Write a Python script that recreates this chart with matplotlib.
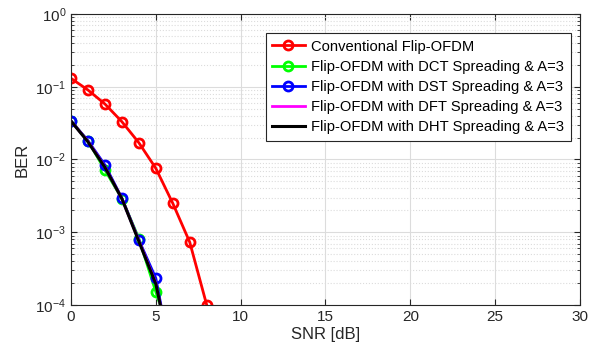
import matplotlib
matplotlib.use("Agg")
import matplotlib.pyplot as plt
from matplotlib.ticker import LogLocator, MultipleLocator, NullFormatter

plt.rcParams['font.family'] = ['Liberation Sans', 'DejaVu Sans']
plt.rcParams['mathtext.fontset'] = 'custom'
plt.rcParams['mathtext.rm'] = 'Liberation Sans'
plt.rcParams['mathtext.it'] = 'Liberation Sans:italic'

# SNR points (dB)
snr = [0, 1, 2, 3, 4, 5, 6, 7, 8]
snr_spread = [0, 1, 2, 3, 4, 5, 6]

# BER curves
ber_conv = [0.1306, 0.0902, 0.058, 0.0331, 0.0170, 0.00757, 0.0025, 0.00073, 1.0e-4]
ber_dct = [0.0338, 0.0180, 0.0072, 0.0029, 0.00082, 0.000152, 3.0e-5]
ber_dst = [0.0338, 0.0181, 0.0084, 0.00293, 0.00078, 0.000233, 1.4e-5]
ber_dft = [0.0338, 0.0178, 0.0079, 0.0029, 0.00077, 0.000200, 1.5e-5]
ber_dht = [0.0338, 0.0175, 0.0078, 0.0029, 0.00075, 0.000195, 1.6e-5]

labels = ['Conventional Flip-OFDM',
          'Flip-OFDM with DCT Spreading & A=3',
          'Flip-OFDM with DST Spreading & A=3',
          'Flip-OFDM with DFT Spreading & A=3',
          'Flip-OFDM with DHT Spreading & A=3']

fig = plt.figure(figsize=(5.89, 3.60), dpi=100)
ax = fig.add_axes([0.1205, 0.1528, 0.8642, 0.8083])

mk = dict(marker='o', markersize=6.5, markerfacecolor='none', markeredgewidth=2)
ax.semilogy(snr, ber_conv, color='#ff0000', lw=2, label=labels[0], **mk)
ax.semilogy(snr_spread, ber_dct, color='#00ff00', lw=2, label=labels[1], **mk)
ax.semilogy(snr_spread, ber_dst, color='#0000ff', lw=2, label=labels[2], **mk)
ax.semilogy(snr_spread, ber_dft, color='#ff00ff', lw=2, label=labels[3])
ax.semilogy(snr_spread, ber_dht, color='#000000', lw=2.2, label=labels[4])

ax.set_xlim(0, 30)
ax.set_ylim(1e-4, 1)
ax.xaxis.set_major_locator(MultipleLocator(5))
ax.yaxis.set_major_locator(LogLocator(base=10, numticks=10))
ax.yaxis.set_minor_locator(LogLocator(base=10, subs=range(2, 10), numticks=20))
ax.yaxis.set_minor_formatter(NullFormatter())

ax.grid(True, which='major', color='#dcdcdc', lw=0.8, ls='-')
ax.grid(True, which='minor', axis='y', color='#dcdcdc', lw=0.8, ls=':')
ax.set_axisbelow(True)

ax.tick_params(which='both', direction='in', top=True, right=True,
               labelsize=11, colors='#262626')
ax.tick_params(which='major', length=4)
ax.tick_params(which='minor', length=2)
for s in ax.spines.values():
    s.set_color('#262626')
    s.set_linewidth(0.8)

ax.set_xlabel('SNR [dB]', fontsize=12, color='#262626', labelpad=2)
ax.set_ylabel('BER', fontsize=12, color='#262626', labelpad=4)

leg = ax.legend(loc='upper right', bbox_to_anchor=(0.982, 0.935), borderaxespad=0,
                fontsize=10.6, handlelength=2.2, handletextpad=0.45, borderpad=0.45,
                labelspacing=0.42, fancybox=False, framealpha=1,
                edgecolor='#262626')
leg.get_frame().set_linewidth(0.8)

fig.savefig('out.png', dpi=100)
